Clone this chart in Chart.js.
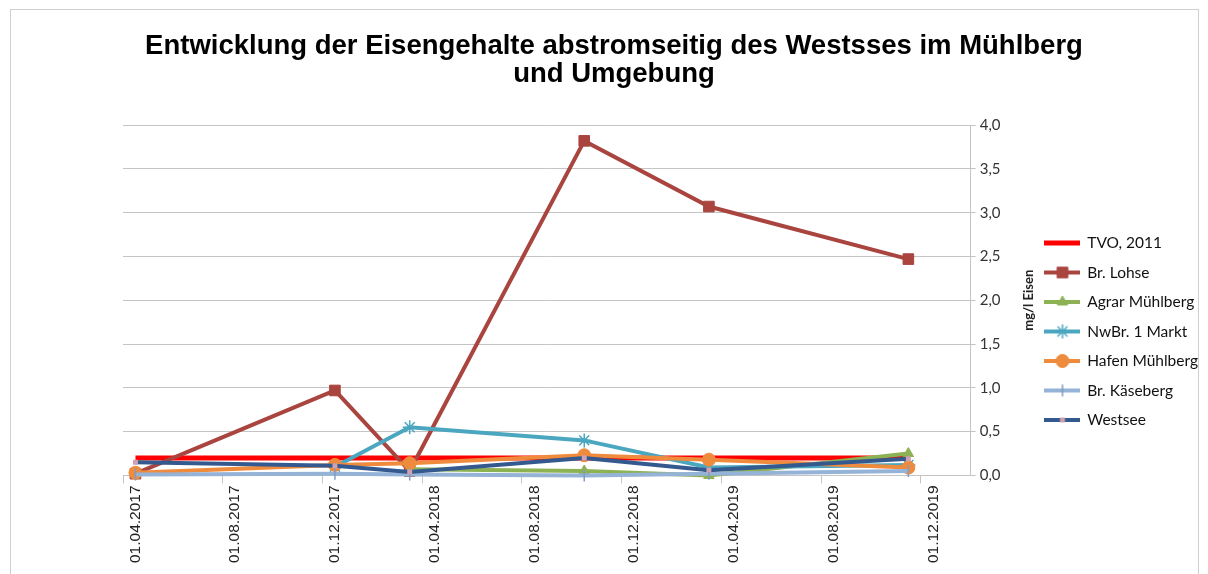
<!DOCTYPE html>
<html>
<head>
<meta charset="utf-8">
<script src="https://cdn.jsdelivr.net/npm/chart.js@4.4.1/dist/chart.umd.min.js"></script>
<style>
	html, body { margin: 0; padding: 0; background: #fff; }
	#wrap { position: relative; width: 1208px; height: 574px; overflow: hidden; }
	#frame { position: absolute; left: 10px; top: 9px; width: 1187px; height: 600px; border: 1px solid #d0d0d0; pointer-events: none; }
</style>
</head>
<body>
<div id="wrap">
	<canvas id="chart" width="1208" height="574"></canvas>
	<div id="frame"></div>
</div>
<script>
// chart texts
const titleLines = ["Entwicklung der Eisengehalte abstromseitig des Westsses im Mühlberg", "und Umgebung"];
const yAxisTitle = "mg/l Eisen";

// monthly date axis, labelled every 4 months
const axisStart = "2017-04";
const axisMonths = 34;
const labelEvery = 4;
const yTicks = [0, 0.5, 1, 1.5, 2, 2.5, 3, 3.5, 4];

// sampling dates (month of the measurement)
const sampleDates = ["2017-04", "2017-12", "2018-03", "2018-10", "2019-03", "2019-11"];

// mg/l iron per series
const tvo2011 = [0.2, 0.2, 0.2, 0.2, 0.2, 0.2];
const brLohse = [0.02, 0.97, 0.05, 3.82, 3.07, 2.47];
const agrarMuehlberg = [null, null, 0.07, 0.05, 0.0, 0.25];
const nwBrMarkt = [null, 0.1, 0.55, 0.4, 0.09, 0.12];
const hafenMuehlberg = [0.03, 0.12, 0.14, 0.23, 0.18, 0.09];
const brKaeseberg = [0.01, 0.02, 0.01, 0.0, 0.02, 0.05];
const westsee = [0.15, 0.11, 0.04, 0.2, 0.06, 0.19];

const monthLabel = (ym) => {
	const [y, m] = ym.split("-");
	return "01." + m + "." + y;
};

const buildMonths = (start, count) => {
	let [y, m] = start.split("-").map(Number);
	const out = [];
	for (let i = 0; i < count; i++) {
		out.push(monthLabel(y + "-" + String(m).padStart(2, "0")));
		m++;
		if (m > 12) { m = 1; y++; }
	}
	return out;
};

const monthLabels = buildMonths(axisStart, axisMonths);

const toPoints = (values) => values.map((v, i) => ({ x: monthLabel(sampleDates[i]), y: v }));

const makeSet = (label, values, color, marker) => ({
	label,
	data: toPoints(values),
	borderColor: color,
	backgroundColor: color,
	borderWidth: 4,
	tension: 0,
	clip: false,
	yAxisID: "y",
	pointStyle: marker.style || "circle",
	pointRadius: marker.radius || 0,
	pointRotation: marker.rotation || 0,
	pointBackgroundColor: marker.fill || color,
	pointBorderColor: marker.stroke || marker.fill || color,
	pointBorderWidth: marker.width ?? 1,
	pointHoverRadius: marker.radius || 0,
});

const datasets = [
	makeSet("TVO, 2011", tvo2011, "#ff0000", { radius: 0 }),
	makeSet("Br. Lohse", brLohse, "#a9443f", { style: "rect", radius: 7.5 }),
	makeSet("Agrar Mühlberg", agrarMuehlberg, "#8db254", { style: "triangle", radius: 6 }),
	makeSet("NwBr. 1 Markt", nwBrMarkt, "#4aa7bf", { style: "star", radius: 7, width: 1.5 }),
	makeSet("Hafen Mühlberg", hafenMuehlberg, "#ef8b3d", { style: "circle", radius: 6.5 }),
	makeSet("Br. Käseberg", brKaeseberg, "#95b3d7", { style: "line", radius: 6, rotation: 90, width: 1.5, stroke: "#7f9cc4" }),
	makeSet("Westsee", westsee, "#34598f", { style: "rect", radius: 3.5, fill: "#cfa2b2", width: 0 }),
];
datasets[0].borderWidth = 5;
// Excel paints later series on top
datasets.forEach((ds, i) => { ds.order = datasets.length - i; });

// line + marker swatch for the legend
const legendSwatch = (ds) => {
	const c = document.createElement("canvas");
	c.width = 36;
	c.height = 16;
	const ctx = c.getContext("2d");
	ctx.strokeStyle = ds.borderColor;
	ctx.lineWidth = ds.borderWidth;
	ctx.beginPath();
	ctx.moveTo(0, 8);
	ctx.lineTo(36, 8);
	ctx.stroke();
	if (ds.pointRadius > 0 && Chart.helpers && Chart.helpers.drawPoint) {
		ctx.fillStyle = ds.pointBackgroundColor;
		ctx.strokeStyle = ds.pointBorderColor;
		ctx.lineWidth = ds.pointBorderWidth;
		Chart.helpers.drawPoint(ctx, {
			pointStyle: ds.pointStyle,
			radius: ds.pointRadius,
			rotation: ds.pointRotation,
			borderWidth: ds.pointBorderWidth,
		}, 18, 8);
	}
	return c;
};

// right-hand axis title reads bottom-to-top
const yTitlePlugin = {
	id: "yTitle",
	afterDraw(chart) {
		const s = chart.scales.y;
		const ctx = chart.ctx;
		ctx.save();
		ctx.translate(s.right - 3, (chart.chartArea.top + chart.chartArea.bottom) / 2);
		ctx.rotate(-Math.PI / 2);
		ctx.font = "bold 13px Lato";
		ctx.textAlign = "center";
		ctx.textBaseline = "middle";
		ctx.fillStyle = "#222";
		ctx.fillText(yAxisTitle, 0, 0);
		ctx.restore();
	},
};

const gridGray = "#c4c4c4";

new Chart(document.getElementById("chart"), {
	type: "line",
	data: { labels: monthLabels, datasets },
	plugins: [yTitlePlugin],
	options: {
		responsive: false,
		animation: false,
		devicePixelRatio: 1,
		layout: { padding: { left: 20, right: 0, bottom: 9 } },
		plugins: {
			tooltip: { enabled: false },
			title: {
				display: true,
				text: titleLines,
				color: "#000",
				font: { family: "Liberation Sans", size: 27.5, weight: "bold", lineHeight: 1.02 },
				padding: { top: 32, bottom: 37 },
			},
			legend: {
				position: "right",
				title: { display: true, text: " ", font: { size: 10 }, padding: { top: 43, bottom: 43 } },
				labels: {
					usePointStyle: true,
					pointStyleWidth: 34,
					boxHeight: 14,
					padding: 14,
					color: "#111",
					font: { family: "Lato", size: 15.5 },
					generateLabels: (chart) => chart.data.datasets.map((ds, i) => ({
						text: ds.label,
						pointStyle: legendSwatch(ds),
						fillStyle: "transparent",
						strokeStyle: "transparent",
						lineWidth: 0,
						hidden: false,
						datasetIndex: i,
						fontColor: "#111",
					})),
				},
			},
		},
		scales: {
			x: {
				type: "category",
				offset: true,
				grid: {
					offset: true,
					drawOnChartArea: false,
					drawTicks: true,
					tickLength: 8,
					color: (ctx) => (ctx.index % labelEvery === 0 ? gridGray : "transparent"),
				},
				border: { color: gridGray },
				ticks: {
					autoSkip: false,
					minRotation: 90,
					maxRotation: 90,
					padding: 2,
					color: "#222",
					font: { family: "Liberation Sans", size: 15.5 },
					callback(value, index) {
						return index % labelEvery === 0 ? this.getLabelForValue(value) : "";
					},
				},
			},
			// empty left axis only keeps the plot clear of the left edge
			spacer: {
				position: "left",
				display: true,
				grid: { display: false, drawTicks: false },
				border: { display: false },
				ticks: { display: false },
				afterFit: (scale) => { scale.width = 103; },
			},
			y: {
				position: "right",
				min: yTicks[0],
				max: yTicks[yTicks.length - 1],
				afterBuildTicks: (scale) => { scale.ticks = yTicks.map((v) => ({ value: v })); },
				afterFit: (scale) => { scale.width += 27; },
				grid: { color: gridGray, tickLength: 5 },
				border: { color: gridGray },
				ticks: {
					padding: 4,
					color: "#333",
					font: { family: "Lato", size: 15 },
					callback: (v) => Number(v).toFixed(1).replace(".", ","),
				},
			},
		},
	},
});
</script>
</body>
</html>
